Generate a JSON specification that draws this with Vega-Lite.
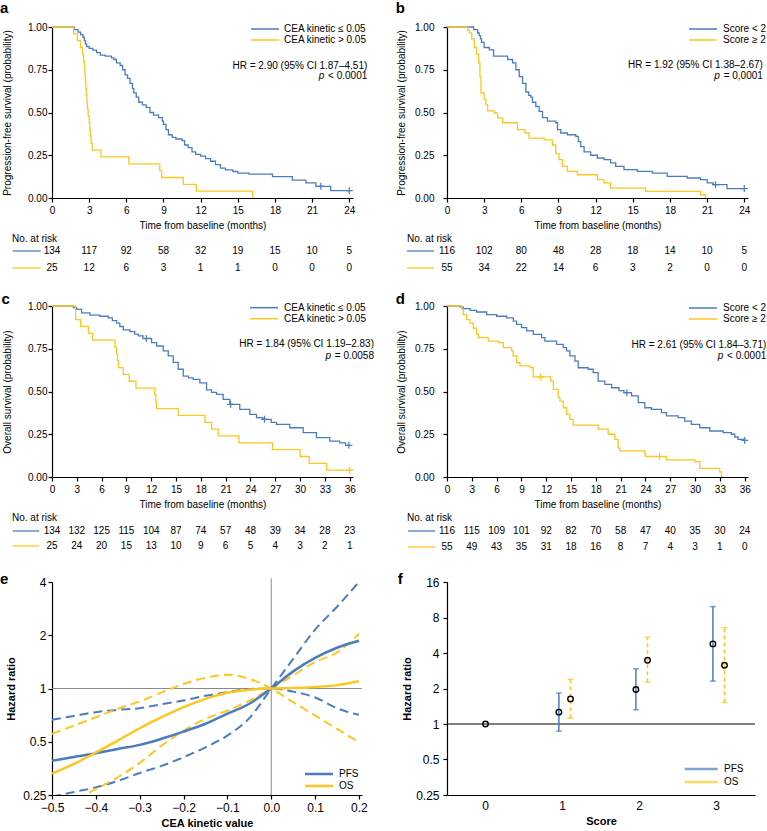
{
  "$schema": "https://vega.github.io/schema/vega-lite/v6.json",
  "padding": {"top": 1, "left": 0, "right": 0, "bottom": 0},
  "background": "white",
  "bounds": "flush",
  "align": "each",
  "columns": 2,
  "spacing": {"row": 46, "column": 85},
  "resolve": {"scale": {"color": "independent"}, "legend": {"color": "independent"}},
  "config": {
    "font": "Liberation Sans",
    "view": {"stroke": null},
    "axis": {"grid": false, "domainColor": "#000", "tickColor": "#000", "labelColor": "#000", "titleColor": "#000", "labelFontSize": 10, "titleFontSize": 10, "titleFontWeight": "normal", "tickSize": 4, "domainWidth": 1.2, "tickWidth": 1.2, "labelFont": "Liberation Sans", "titleFont": "Liberation Sans", "labelOverlap": false},
    "legend": {"labelFont": "Liberation Sans", "labelColor": "#000"},
    "title": {"fontSize": 10, "fontWeight": "normal", "color": "#000", "font": "Liberation Sans"},
    "text": {"font": "Liberation Sans", "color": "#000"}
  },
  "datasets": {
    "kmA": [
      {"group": "CEA kinetic ≤ 0.05", "t": 0, "s": 1}, {"group": "CEA kinetic ≤ 0.05", "t": 1.8, "s": 0.985}, {"group": "CEA kinetic ≤ 0.05", "t": 2.1, "s": 0.97}, {"group": "CEA kinetic ≤ 0.05", "t": 2.3, "s": 0.955}, {"group": "CEA kinetic ≤ 0.05", "t": 2.5, "s": 0.94}, {"group": "CEA kinetic ≤ 0.05", "t": 2.6, "s": 0.92}, {"group": "CEA kinetic ≤ 0.05", "t": 2.7, "s": 0.9}, {"group": "CEA kinetic ≤ 0.05", "t": 2.8, "s": 0.885}, {"group": "CEA kinetic ≤ 0.05", "t": 3.0, "s": 0.875}, {"group": "CEA kinetic ≤ 0.05", "t": 3.3, "s": 0.865}, {"group": "CEA kinetic ≤ 0.05", "t": 3.6, "s": 0.85}, {"group": "CEA kinetic ≤ 0.05", "t": 3.9, "s": 0.835}, {"group": "CEA kinetic ≤ 0.05", "t": 4.3, "s": 0.83}, {"group": "CEA kinetic ≤ 0.05", "t": 4.8, "s": 0.82}, {"group": "CEA kinetic ≤ 0.05", "t": 5.0, "s": 0.81}, {"group": "CEA kinetic ≤ 0.05", "t": 5.2, "s": 0.79}, {"group": "CEA kinetic ≤ 0.05", "t": 5.5, "s": 0.775}, {"group": "CEA kinetic ≤ 0.05", "t": 5.7, "s": 0.75}, {"group": "CEA kinetic ≤ 0.05", "t": 5.9, "s": 0.72}, {"group": "CEA kinetic ≤ 0.05", "t": 6.1, "s": 0.7}, {"group": "CEA kinetic ≤ 0.05", "t": 6.3, "s": 0.67}, {"group": "CEA kinetic ≤ 0.05", "t": 6.5, "s": 0.64}, {"group": "CEA kinetic ≤ 0.05", "t": 6.6, "s": 0.615}, {"group": "CEA kinetic ≤ 0.05", "t": 6.8, "s": 0.59}, {"group": "CEA kinetic ≤ 0.05", "t": 7.0, "s": 0.56}, {"group": "CEA kinetic ≤ 0.05", "t": 7.3, "s": 0.545}, {"group": "CEA kinetic ≤ 0.05", "t": 7.6, "s": 0.53}, {"group": "CEA kinetic ≤ 0.05", "t": 7.9, "s": 0.5}, {"group": "CEA kinetic ≤ 0.05", "t": 8.2, "s": 0.485}, {"group": "CEA kinetic ≤ 0.05", "t": 8.6, "s": 0.47}, {"group": "CEA kinetic ≤ 0.05", "t": 8.9, "s": 0.45}, {"group": "CEA kinetic ≤ 0.05", "t": 9.0, "s": 0.43}, {"group": "CEA kinetic ≤ 0.05", "t": 9.2, "s": 0.4}, {"group": "CEA kinetic ≤ 0.05", "t": 9.4, "s": 0.37}, {"group": "CEA kinetic ≤ 0.05", "t": 9.7, "s": 0.355}, {"group": "CEA kinetic ≤ 0.05", "t": 10.0, "s": 0.345}, {"group": "CEA kinetic ≤ 0.05", "t": 10.5, "s": 0.335}, {"group": "CEA kinetic ≤ 0.05", "t": 10.7, "s": 0.31}, {"group": "CEA kinetic ≤ 0.05", "t": 11.0, "s": 0.295}, {"group": "CEA kinetic ≤ 0.05", "t": 11.3, "s": 0.27}, {"group": "CEA kinetic ≤ 0.05", "t": 11.6, "s": 0.255}, {"group": "CEA kinetic ≤ 0.05", "t": 12.0, "s": 0.245}, {"group": "CEA kinetic ≤ 0.05", "t": 12.4, "s": 0.23}, {"group": "CEA kinetic ≤ 0.05", "t": 12.8, "s": 0.215}, {"group": "CEA kinetic ≤ 0.05", "t": 13.2, "s": 0.195}, {"group": "CEA kinetic ≤ 0.05", "t": 13.6, "s": 0.175}, {"group": "CEA kinetic ≤ 0.05", "t": 14.0, "s": 0.165}, {"group": "CEA kinetic ≤ 0.05", "t": 14.6, "s": 0.155}, {"group": "CEA kinetic ≤ 0.05", "t": 15.0, "s": 0.145}, {"group": "CEA kinetic ≤ 0.05", "t": 15.9, "s": 0.14}, {"group": "CEA kinetic ≤ 0.05", "t": 17.8, "s": 0.125}, {"group": "CEA kinetic ≤ 0.05", "t": 19.4, "s": 0.105}, {"group": "CEA kinetic ≤ 0.05", "t": 20.5, "s": 0.088}, {"group": "CEA kinetic ≤ 0.05", "t": 21.3, "s": 0.068}, {"group": "CEA kinetic ≤ 0.05", "t": 22.5, "s": 0.043}, {"group": "CEA kinetic ≤ 0.05", "t": 24.0, "s": 0.043},
      {"group": "CEA kinetic > 0.05", "t": 0, "s": 1}, {"group": "CEA kinetic > 0.05", "t": 1.75, "s": 0.96}, {"group": "CEA kinetic > 0.05", "t": 2.05, "s": 0.92}, {"group": "CEA kinetic > 0.05", "t": 2.3, "s": 0.88}, {"group": "CEA kinetic > 0.05", "t": 2.45, "s": 0.84}, {"group": "CEA kinetic > 0.05", "t": 2.55, "s": 0.8}, {"group": "CEA kinetic > 0.05", "t": 2.62, "s": 0.76}, {"group": "CEA kinetic > 0.05", "t": 2.66, "s": 0.72}, {"group": "CEA kinetic > 0.05", "t": 2.7, "s": 0.68}, {"group": "CEA kinetic > 0.05", "t": 2.74, "s": 0.64}, {"group": "CEA kinetic > 0.05", "t": 2.78, "s": 0.6}, {"group": "CEA kinetic > 0.05", "t": 2.82, "s": 0.56}, {"group": "CEA kinetic > 0.05", "t": 2.86, "s": 0.52}, {"group": "CEA kinetic > 0.05", "t": 2.92, "s": 0.48}, {"group": "CEA kinetic > 0.05", "t": 3.0, "s": 0.44}, {"group": "CEA kinetic > 0.05", "t": 3.05, "s": 0.4}, {"group": "CEA kinetic > 0.05", "t": 3.1, "s": 0.36}, {"group": "CEA kinetic > 0.05", "t": 3.16, "s": 0.32}, {"group": "CEA kinetic > 0.05", "t": 3.25, "s": 0.28}, {"group": "CEA kinetic > 0.05", "t": 3.95, "s": 0.24}, {"group": "CEA kinetic > 0.05", "t": 6.2, "s": 0.2}, {"group": "CEA kinetic > 0.05", "t": 8.7, "s": 0.16}, {"group": "CEA kinetic > 0.05", "t": 8.85, "s": 0.12}, {"group": "CEA kinetic > 0.05", "t": 10.6, "s": 0.08}, {"group": "CEA kinetic > 0.05", "t": 11.65, "s": 0.04}, {"group": "CEA kinetic > 0.05", "t": 16.2, "s": 0.0}
    ],
    "censA": [
      {"group": "CEA kinetic ≤ 0.05", "t": 21.7, "s": 0.068}, {"group": "CEA kinetic ≤ 0.05", "t": 24.0, "s": 0.043}
    ],
    "kmB": [
      {"group": "Score < 2", "t": 0, "s": 1}, {"group": "Score < 2", "t": 2.15, "s": 0.985}, {"group": "Score < 2", "t": 2.47, "s": 0.965}, {"group": "Score < 2", "t": 2.6, "s": 0.95}, {"group": "Score < 2", "t": 2.7, "s": 0.93}, {"group": "Score < 2", "t": 2.79, "s": 0.91}, {"group": "Score < 2", "t": 3.0, "s": 0.88}, {"group": "Score < 2", "t": 3.41, "s": 0.866}, {"group": "Score < 2", "t": 3.76, "s": 0.83}, {"group": "Score < 2", "t": 4.89, "s": 0.81}, {"group": "Score < 2", "t": 5.29, "s": 0.79}, {"group": "Score < 2", "t": 5.56, "s": 0.75}, {"group": "Score < 2", "t": 5.83, "s": 0.71}, {"group": "Score < 2", "t": 6.1, "s": 0.67}, {"group": "Score < 2", "t": 6.37, "s": 0.62}, {"group": "Score < 2", "t": 6.6, "s": 0.6}, {"group": "Score < 2", "t": 6.77, "s": 0.59}, {"group": "Score < 2", "t": 6.9, "s": 0.56}, {"group": "Score < 2", "t": 7.17, "s": 0.536}, {"group": "Score < 2", "t": 7.44, "s": 0.507}, {"group": "Score < 2", "t": 7.71, "s": 0.47}, {"group": "Score < 2", "t": 8.11, "s": 0.45}, {"group": "Score < 2", "t": 8.78, "s": 0.44}, {"group": "Score < 2", "t": 8.92, "s": 0.4}, {"group": "Score < 2", "t": 9.19, "s": 0.38}, {"group": "Score < 2", "t": 9.72, "s": 0.37}, {"group": "Score < 2", "t": 10.4, "s": 0.36}, {"group": "Score < 2", "t": 10.6, "s": 0.33}, {"group": "Score < 2", "t": 10.8, "s": 0.3}, {"group": "Score < 2", "t": 11.07, "s": 0.27}, {"group": "Score < 2", "t": 11.6, "s": 0.25}, {"group": "Score < 2", "t": 12.14, "s": 0.234}, {"group": "Score < 2", "t": 12.68, "s": 0.224}, {"group": "Score < 2", "t": 13.21, "s": 0.205}, {"group": "Score < 2", "t": 13.62, "s": 0.185}, {"group": "Score < 2", "t": 14.29, "s": 0.166}, {"group": "Score < 2", "t": 15.36, "s": 0.156}, {"group": "Score < 2", "t": 16.57, "s": 0.146}, {"group": "Score < 2", "t": 17.78, "s": 0.127}, {"group": "Score < 2", "t": 19.39, "s": 0.117}, {"group": "Score < 2", "t": 20.47, "s": 0.107}, {"group": "Score < 2", "t": 21.0, "s": 0.088}, {"group": "Score < 2", "t": 21.5, "s": 0.078}, {"group": "Score < 2", "t": 22.6, "s": 0.055}, {"group": "Score < 2", "t": 24.0, "s": 0.055},
      {"group": "Score ≥ 2", "t": 0, "s": 1}, {"group": "Score ≥ 2", "t": 1.67, "s": 0.98}, {"group": "Score ≥ 2", "t": 1.8, "s": 0.965}, {"group": "Score ≥ 2", "t": 1.99, "s": 0.93}, {"group": "Score ≥ 2", "t": 2.2, "s": 0.88}, {"group": "Score ≥ 2", "t": 2.39, "s": 0.84}, {"group": "Score ≥ 2", "t": 2.55, "s": 0.79}, {"group": "Score ≥ 2", "t": 2.66, "s": 0.71}, {"group": "Score ≥ 2", "t": 2.74, "s": 0.614}, {"group": "Score ≥ 2", "t": 3.0, "s": 0.575}, {"group": "Score ≥ 2", "t": 3.14, "s": 0.546}, {"group": "Score ≥ 2", "t": 3.28, "s": 0.51}, {"group": "Score ≥ 2", "t": 3.81, "s": 0.497}, {"group": "Score ≥ 2", "t": 4.08, "s": 0.468}, {"group": "Score ≥ 2", "t": 4.49, "s": 0.44}, {"group": "Score ≥ 2", "t": 5.69, "s": 0.4}, {"group": "Score ≥ 2", "t": 6.3, "s": 0.38}, {"group": "Score ≥ 2", "t": 6.63, "s": 0.35}, {"group": "Score ≥ 2", "t": 7.84, "s": 0.34}, {"group": "Score ≥ 2", "t": 8.51, "s": 0.31}, {"group": "Score ≥ 2", "t": 8.78, "s": 0.26}, {"group": "Score ≥ 2", "t": 9.05, "s": 0.224}, {"group": "Score ≥ 2", "t": 9.32, "s": 0.185}, {"group": "Score ≥ 2", "t": 9.72, "s": 0.156}, {"group": "Score ≥ 2", "t": 10.53, "s": 0.136}, {"group": "Score ≥ 2", "t": 12.14, "s": 0.107}, {"group": "Score ≥ 2", "t": 12.68, "s": 0.088}, {"group": "Score ≥ 2", "t": 13.21, "s": 0.058}, {"group": "Score ≥ 2", "t": 16.03, "s": 0.039}, {"group": "Score ≥ 2", "t": 20.47, "s": 0.019}, {"group": "Score ≥ 2", "t": 20.87, "s": 0.0}
    ],
    "censB": [
      {"group": "Score < 2", "t": 21.68, "s": 0.078}, {"group": "Score < 2", "t": 24.0, "s": 0.055}
    ],
    "kmC": [
      {"group": "CEA kinetic ≤ 0.05", "t": 0, "s": 1}, {"group": "CEA kinetic ≤ 0.05", "t": 2.58, "s": 0.99}, {"group": "CEA kinetic ≤ 0.05", "t": 2.98, "s": 0.98}, {"group": "CEA kinetic ≤ 0.05", "t": 3.58, "s": 0.96}, {"group": "CEA kinetic ≤ 0.05", "t": 4.59, "s": 0.947}, {"group": "CEA kinetic ≤ 0.05", "t": 5.8, "s": 0.94}, {"group": "CEA kinetic ≤ 0.05", "t": 6.8, "s": 0.93}, {"group": "CEA kinetic ≤ 0.05", "t": 7.3, "s": 0.915}, {"group": "CEA kinetic ≤ 0.05", "t": 7.81, "s": 0.9}, {"group": "CEA kinetic ≤ 0.05", "t": 8.2, "s": 0.88}, {"group": "CEA kinetic ≤ 0.05", "t": 8.62, "s": 0.86}, {"group": "CEA kinetic ≤ 0.05", "t": 9.42, "s": 0.85}, {"group": "CEA kinetic ≤ 0.05", "t": 10.0, "s": 0.835}, {"group": "CEA kinetic ≤ 0.05", "t": 10.43, "s": 0.825}, {"group": "CEA kinetic ≤ 0.05", "t": 11.0, "s": 0.81}, {"group": "CEA kinetic ≤ 0.05", "t": 12.04, "s": 0.786}, {"group": "CEA kinetic ≤ 0.05", "t": 12.65, "s": 0.766}, {"group": "CEA kinetic ≤ 0.05", "t": 13.45, "s": 0.737}, {"group": "CEA kinetic ≤ 0.05", "t": 14.06, "s": 0.708}, {"group": "CEA kinetic ≤ 0.05", "t": 14.66, "s": 0.67}, {"group": "CEA kinetic ≤ 0.05", "t": 15.26, "s": 0.63}, {"group": "CEA kinetic ≤ 0.05", "t": 15.87, "s": 0.59}, {"group": "CEA kinetic ≤ 0.05", "t": 16.5, "s": 0.58}, {"group": "CEA kinetic ≤ 0.05", "t": 17.08, "s": 0.571}, {"group": "CEA kinetic ≤ 0.05", "t": 17.88, "s": 0.55}, {"group": "CEA kinetic ≤ 0.05", "t": 18.69, "s": 0.51}, {"group": "CEA kinetic ≤ 0.05", "t": 19.3, "s": 0.495}, {"group": "CEA kinetic ≤ 0.05", "t": 19.9, "s": 0.483}, {"group": "CEA kinetic ≤ 0.05", "t": 20.7, "s": 0.454}, {"group": "CEA kinetic ≤ 0.05", "t": 21.5, "s": 0.425}, {"group": "CEA kinetic ≤ 0.05", "t": 22.71, "s": 0.396}, {"group": "CEA kinetic ≤ 0.05", "t": 23.92, "s": 0.366}, {"group": "CEA kinetic ≤ 0.05", "t": 24.73, "s": 0.347}, {"group": "CEA kinetic ≤ 0.05", "t": 25.5, "s": 0.337}, {"group": "CEA kinetic ≤ 0.05", "t": 26.5, "s": 0.32}, {"group": "CEA kinetic ≤ 0.05", "t": 27.14, "s": 0.308}, {"group": "CEA kinetic ≤ 0.05", "t": 28.75, "s": 0.288}, {"group": "CEA kinetic ≤ 0.05", "t": 30.37, "s": 0.259}, {"group": "CEA kinetic ≤ 0.05", "t": 31.98, "s": 0.23}, {"group": "CEA kinetic ≤ 0.05", "t": 33.59, "s": 0.21}, {"group": "CEA kinetic ≤ 0.05", "t": 34.8, "s": 0.2}, {"group": "CEA kinetic ≤ 0.05", "t": 35.5, "s": 0.185}, {"group": "CEA kinetic ≤ 0.05", "t": 36.0, "s": 0.185},
      {"group": "CEA kinetic > 0.05", "t": 0, "s": 1}, {"group": "CEA kinetic > 0.05", "t": 2.85, "s": 0.92}, {"group": "CEA kinetic > 0.05", "t": 3.45, "s": 0.88}, {"group": "CEA kinetic > 0.05", "t": 4.4, "s": 0.84}, {"group": "CEA kinetic > 0.05", "t": 4.91, "s": 0.8}, {"group": "CEA kinetic > 0.05", "t": 7.61, "s": 0.76}, {"group": "CEA kinetic > 0.05", "t": 7.81, "s": 0.72}, {"group": "CEA kinetic > 0.05", "t": 7.93, "s": 0.68}, {"group": "CEA kinetic > 0.05", "t": 8.05, "s": 0.64}, {"group": "CEA kinetic > 0.05", "t": 8.62, "s": 0.6}, {"group": "CEA kinetic > 0.05", "t": 9.34, "s": 0.56}, {"group": "CEA kinetic > 0.05", "t": 10.15, "s": 0.52}, {"group": "CEA kinetic > 0.05", "t": 12.44, "s": 0.48}, {"group": "CEA kinetic > 0.05", "t": 12.56, "s": 0.44}, {"group": "CEA kinetic > 0.05", "t": 12.65, "s": 0.4}, {"group": "CEA kinetic > 0.05", "t": 15.26, "s": 0.36}, {"group": "CEA kinetic > 0.05", "t": 18.49, "s": 0.32}, {"group": "CEA kinetic > 0.05", "t": 19.3, "s": 0.28}, {"group": "CEA kinetic > 0.05", "t": 20.1, "s": 0.24}, {"group": "CEA kinetic > 0.05", "t": 22.6, "s": 0.2}, {"group": "CEA kinetic > 0.05", "t": 26.66, "s": 0.16}, {"group": "CEA kinetic > 0.05", "t": 30.0, "s": 0.12}, {"group": "CEA kinetic > 0.05", "t": 31.1, "s": 0.08}, {"group": "CEA kinetic > 0.05", "t": 33.2, "s": 0.04}, {"group": "CEA kinetic > 0.05", "t": 36.0, "s": 0.04}
    ],
    "censC": [
      {"group": "CEA kinetic ≤ 0.05", "t": 11.4, "s": 0.81}, {"group": "CEA kinetic ≤ 0.05", "t": 21.6, "s": 0.425}, {"group": "CEA kinetic ≤ 0.05", "t": 25.7, "s": 0.337}, {"group": "CEA kinetic ≤ 0.05", "t": 35.9, "s": 0.185}, {"group": "CEA kinetic > 0.05", "t": 36.0, "s": 0.04}
    ],
    "kmD": [
      {"group": "Score < 2", "t": 0, "s": 1}, {"group": "Score < 2", "t": 1.57, "s": 0.994}, {"group": "Score < 2", "t": 1.97, "s": 0.985}, {"group": "Score < 2", "t": 2.8, "s": 0.975}, {"group": "Score < 2", "t": 3.58, "s": 0.965}, {"group": "Score < 2", "t": 4.79, "s": 0.95}, {"group": "Score < 2", "t": 6.0, "s": 0.94}, {"group": "Score < 2", "t": 7.21, "s": 0.93}, {"group": "Score < 2", "t": 8.01, "s": 0.912}, {"group": "Score < 2", "t": 8.42, "s": 0.893}, {"group": "Score < 2", "t": 9.02, "s": 0.873}, {"group": "Score < 2", "t": 9.63, "s": 0.854}, {"group": "Score < 2", "t": 10.43, "s": 0.834}, {"group": "Score < 2", "t": 11.44, "s": 0.815}, {"group": "Score < 2", "t": 11.84, "s": 0.795}, {"group": "Score < 2", "t": 13.25, "s": 0.776}, {"group": "Score < 2", "t": 14.06, "s": 0.756}, {"group": "Score < 2", "t": 14.46, "s": 0.737}, {"group": "Score < 2", "t": 14.86, "s": 0.708}, {"group": "Score < 2", "t": 15.47, "s": 0.678}, {"group": "Score < 2", "t": 15.87, "s": 0.639}, {"group": "Score < 2", "t": 17.08, "s": 0.63}, {"group": "Score < 2", "t": 17.68, "s": 0.61}, {"group": "Score < 2", "t": 18.28, "s": 0.561}, {"group": "Score < 2", "t": 19.09, "s": 0.542}, {"group": "Score < 2", "t": 19.9, "s": 0.522}, {"group": "Score < 2", "t": 20.8, "s": 0.505}, {"group": "Score < 2", "t": 21.4, "s": 0.493}, {"group": "Score < 2", "t": 22.31, "s": 0.474}, {"group": "Score < 2", "t": 23.12, "s": 0.435}, {"group": "Score < 2", "t": 23.92, "s": 0.405}, {"group": "Score < 2", "t": 24.73, "s": 0.396}, {"group": "Score < 2", "t": 25.94, "s": 0.376}, {"group": "Score < 2", "t": 26.54, "s": 0.357}, {"group": "Score < 2", "t": 27.95, "s": 0.347}, {"group": "Score < 2", "t": 28.75, "s": 0.327}, {"group": "Score < 2", "t": 29.56, "s": 0.308}, {"group": "Score < 2", "t": 30.57, "s": 0.288}, {"group": "Score < 2", "t": 31.78, "s": 0.269}, {"group": "Score < 2", "t": 33.39, "s": 0.259}, {"group": "Score < 2", "t": 34.39, "s": 0.25}, {"group": "Score < 2", "t": 34.8, "s": 0.234}, {"group": "Score < 2", "t": 35.2, "s": 0.22}, {"group": "Score < 2", "t": 36.0, "s": 0.214},
      {"group": "Score ≥ 2", "t": 0, "s": 1}, {"group": "Score ≥ 2", "t": 1.77, "s": 0.982}, {"group": "Score ≥ 2", "t": 1.97, "s": 0.95}, {"group": "Score ≥ 2", "t": 2.38, "s": 0.92}, {"group": "Score ≥ 2", "t": 2.78, "s": 0.9}, {"group": "Score ≥ 2", "t": 3.18, "s": 0.87}, {"group": "Score ≥ 2", "t": 3.58, "s": 0.834}, {"group": "Score ≥ 2", "t": 3.79, "s": 0.815}, {"group": "Score ≥ 2", "t": 4.99, "s": 0.795}, {"group": "Score ≥ 2", "t": 6.2, "s": 0.786}, {"group": "Score ≥ 2", "t": 6.8, "s": 0.756}, {"group": "Score ≥ 2", "t": 7.81, "s": 0.737}, {"group": "Score ≥ 2", "t": 8.01, "s": 0.708}, {"group": "Score ≥ 2", "t": 8.42, "s": 0.668}, {"group": "Score ≥ 2", "t": 8.82, "s": 0.65}, {"group": "Score ≥ 2", "t": 10.03, "s": 0.64}, {"group": "Score ≥ 2", "t": 10.43, "s": 0.585}, {"group": "Score ≥ 2", "t": 12.56, "s": 0.561}, {"group": "Score ≥ 2", "t": 12.85, "s": 0.513}, {"group": "Score ≥ 2", "t": 13.45, "s": 0.464}, {"group": "Score ≥ 2", "t": 13.65, "s": 0.444}, {"group": "Score ≥ 2", "t": 14.06, "s": 0.405}, {"group": "Score ≥ 2", "t": 14.46, "s": 0.366}, {"group": "Score ≥ 2", "t": 14.86, "s": 0.337}, {"group": "Score ≥ 2", "t": 15.26, "s": 0.303}, {"group": "Score ≥ 2", "t": 18.28, "s": 0.28}, {"group": "Score ≥ 2", "t": 19.49, "s": 0.25}, {"group": "Score ≥ 2", "t": 20.3, "s": 0.22}, {"group": "Score ≥ 2", "t": 20.7, "s": 0.17}, {"group": "Score ≥ 2", "t": 20.9, "s": 0.153}, {"group": "Score ≥ 2", "t": 23.92, "s": 0.133}, {"group": "Score ≥ 2", "t": 24.0, "s": 0.12}, {"group": "Score ≥ 2", "t": 26.54, "s": 0.1}, {"group": "Score ≥ 2", "t": 29.96, "s": 0.09}, {"group": "Score ≥ 2", "t": 30.57, "s": 0.05}, {"group": "Score ≥ 2", "t": 32.98, "s": 0.03}, {"group": "Score ≥ 2", "t": 33.19, "s": 0.0}
    ],
    "censD": [
      {"group": "Score < 2", "t": 21.75, "s": 0.493}, {"group": "Score < 2", "t": 36.0, "s": 0.214}, {"group": "Score ≥ 2", "t": 11.3, "s": 0.585}, {"group": "Score ≥ 2", "t": 25.7, "s": 0.12}
    ],
    "riskA": [
      {"group": "CEA kinetic ≤ 0.05", "t": 0, "n": 134}, {"group": "CEA kinetic ≤ 0.05", "t": 3, "n": 117}, {"group": "CEA kinetic ≤ 0.05", "t": 6, "n": 92}, {"group": "CEA kinetic ≤ 0.05", "t": 9, "n": 58}, {"group": "CEA kinetic ≤ 0.05", "t": 12, "n": 32}, {"group": "CEA kinetic ≤ 0.05", "t": 15, "n": 19}, {"group": "CEA kinetic ≤ 0.05", "t": 18, "n": 15}, {"group": "CEA kinetic ≤ 0.05", "t": 21, "n": 10}, {"group": "CEA kinetic ≤ 0.05", "t": 24, "n": 5},
      {"group": "CEA kinetic > 0.05", "t": 0, "n": 25}, {"group": "CEA kinetic > 0.05", "t": 3, "n": 12}, {"group": "CEA kinetic > 0.05", "t": 6, "n": 6}, {"group": "CEA kinetic > 0.05", "t": 9, "n": 3}, {"group": "CEA kinetic > 0.05", "t": 12, "n": 1}, {"group": "CEA kinetic > 0.05", "t": 15, "n": 1}, {"group": "CEA kinetic > 0.05", "t": 18, "n": 0}, {"group": "CEA kinetic > 0.05", "t": 21, "n": 0}, {"group": "CEA kinetic > 0.05", "t": 24, "n": 0}
    ],
    "riskB": [
      {"group": "Score < 2", "t": 0, "n": 116}, {"group": "Score < 2", "t": 3, "n": 102}, {"group": "Score < 2", "t": 6, "n": 80}, {"group": "Score < 2", "t": 9, "n": 48}, {"group": "Score < 2", "t": 12, "n": 28}, {"group": "Score < 2", "t": 15, "n": 18}, {"group": "Score < 2", "t": 18, "n": 14}, {"group": "Score < 2", "t": 21, "n": 10}, {"group": "Score < 2", "t": 24, "n": 5},
      {"group": "Score ≥ 2", "t": 0, "n": 55}, {"group": "Score ≥ 2", "t": 3, "n": 34}, {"group": "Score ≥ 2", "t": 6, "n": 22}, {"group": "Score ≥ 2", "t": 9, "n": 14}, {"group": "Score ≥ 2", "t": 12, "n": 6}, {"group": "Score ≥ 2", "t": 15, "n": 3}, {"group": "Score ≥ 2", "t": 18, "n": 2}, {"group": "Score ≥ 2", "t": 21, "n": 0}, {"group": "Score ≥ 2", "t": 24, "n": 0}
    ],
    "riskC": [
      {"group": "CEA kinetic ≤ 0.05", "t": 0, "n": 134}, {"group": "CEA kinetic ≤ 0.05", "t": 3, "n": 132}, {"group": "CEA kinetic ≤ 0.05", "t": 6, "n": 125}, {"group": "CEA kinetic ≤ 0.05", "t": 9, "n": 115}, {"group": "CEA kinetic ≤ 0.05", "t": 12, "n": 104}, {"group": "CEA kinetic ≤ 0.05", "t": 15, "n": 87}, {"group": "CEA kinetic ≤ 0.05", "t": 18, "n": 74}, {"group": "CEA kinetic ≤ 0.05", "t": 21, "n": 57}, {"group": "CEA kinetic ≤ 0.05", "t": 24, "n": 48}, {"group": "CEA kinetic ≤ 0.05", "t": 27, "n": 39}, {"group": "CEA kinetic ≤ 0.05", "t": 30, "n": 34}, {"group": "CEA kinetic ≤ 0.05", "t": 33, "n": 28}, {"group": "CEA kinetic ≤ 0.05", "t": 36, "n": 23},
      {"group": "CEA kinetic > 0.05", "t": 0, "n": 25}, {"group": "CEA kinetic > 0.05", "t": 3, "n": 24}, {"group": "CEA kinetic > 0.05", "t": 6, "n": 20}, {"group": "CEA kinetic > 0.05", "t": 9, "n": 15}, {"group": "CEA kinetic > 0.05", "t": 12, "n": 13}, {"group": "CEA kinetic > 0.05", "t": 15, "n": 10}, {"group": "CEA kinetic > 0.05", "t": 18, "n": 9}, {"group": "CEA kinetic > 0.05", "t": 21, "n": 6}, {"group": "CEA kinetic > 0.05", "t": 24, "n": 5}, {"group": "CEA kinetic > 0.05", "t": 27, "n": 4}, {"group": "CEA kinetic > 0.05", "t": 30, "n": 3}, {"group": "CEA kinetic > 0.05", "t": 33, "n": 2}, {"group": "CEA kinetic > 0.05", "t": 36, "n": 1}
    ],
    "riskD": [
      {"group": "Score < 2", "t": 0, "n": 116}, {"group": "Score < 2", "t": 3, "n": 115}, {"group": "Score < 2", "t": 6, "n": 109}, {"group": "Score < 2", "t": 9, "n": 101}, {"group": "Score < 2", "t": 12, "n": 92}, {"group": "Score < 2", "t": 15, "n": 82}, {"group": "Score < 2", "t": 18, "n": 70}, {"group": "Score < 2", "t": 21, "n": 58}, {"group": "Score < 2", "t": 24, "n": 47}, {"group": "Score < 2", "t": 27, "n": 40}, {"group": "Score < 2", "t": 30, "n": 35}, {"group": "Score < 2", "t": 33, "n": 30}, {"group": "Score < 2", "t": 36, "n": 24},
      {"group": "Score ≥ 2", "t": 0, "n": 55}, {"group": "Score ≥ 2", "t": 3, "n": 49}, {"group": "Score ≥ 2", "t": 6, "n": 43}, {"group": "Score ≥ 2", "t": 9, "n": 35}, {"group": "Score ≥ 2", "t": 12, "n": 31}, {"group": "Score ≥ 2", "t": 15, "n": 18}, {"group": "Score ≥ 2", "t": 18, "n": 16}, {"group": "Score ≥ 2", "t": 21, "n": 8}, {"group": "Score ≥ 2", "t": 24, "n": 7}, {"group": "Score ≥ 2", "t": 27, "n": 4}, {"group": "Score ≥ 2", "t": 30, "n": 3}, {"group": "Score ≥ 2", "t": 33, "n": 1}, {"group": "Score ≥ 2", "t": 36, "n": 0}
    ],
    "spline": [
      {"m": "PFS", "b": "est", "x": -0.5, "hr": 0.39}, {"m": "PFS", "b": "est", "x": -0.45, "hr": 0.41}, {"m": "PFS", "b": "est", "x": -0.4, "hr": 0.43}, {"m": "PFS", "b": "est", "x": -0.35, "hr": 0.455}, {"m": "PFS", "b": "est", "x": -0.3, "hr": 0.48}, {"m": "PFS", "b": "est", "x": -0.25, "hr": 0.52}, {"m": "PFS", "b": "est", "x": -0.2, "hr": 0.57}, {"m": "PFS", "b": "est", "x": -0.15, "hr": 0.632}, {"m": "PFS", "b": "est", "x": -0.1, "hr": 0.72}, {"m": "PFS", "b": "est", "x": -0.05, "hr": 0.82}, {"m": "PFS", "b": "est", "x": 0, "hr": 1.0}, {"m": "PFS", "b": "est", "x": 0.05, "hr": 1.25}, {"m": "PFS", "b": "est", "x": 0.1, "hr": 1.49}, {"m": "PFS", "b": "est", "x": 0.15, "hr": 1.7}, {"m": "PFS", "b": "est", "x": 0.2, "hr": 1.86},
      {"m": "PFS", "b": "ciA", "x": -0.5, "hr": 0.245}, {"m": "PFS", "b": "ciA", "x": -0.45, "hr": 0.26}, {"m": "PFS", "b": "ciA", "x": -0.4, "hr": 0.276}, {"m": "PFS", "b": "ciA", "x": -0.35, "hr": 0.3}, {"m": "PFS", "b": "ciA", "x": -0.3, "hr": 0.333}, {"m": "PFS", "b": "ciA", "x": -0.25, "hr": 0.365}, {"m": "PFS", "b": "ciA", "x": -0.2, "hr": 0.409}, {"m": "PFS", "b": "ciA", "x": -0.15, "hr": 0.465}, {"m": "PFS", "b": "ciA", "x": -0.1, "hr": 0.542}, {"m": "PFS", "b": "ciA", "x": -0.05, "hr": 0.68}, {"m": "PFS", "b": "ciA", "x": 0, "hr": 1.0}, {"m": "PFS", "b": "ciA", "x": 0.05, "hr": 1.47}, {"m": "PFS", "b": "ciA", "x": 0.1, "hr": 2.15}, {"m": "PFS", "b": "ciA", "x": 0.15, "hr": 2.9}, {"m": "PFS", "b": "ciA", "x": 0.2, "hr": 4.0},
      {"m": "PFS", "b": "ciB", "x": -0.5, "hr": 0.665}, {"m": "PFS", "b": "ciB", "x": -0.45, "hr": 0.7}, {"m": "PFS", "b": "ciB", "x": -0.4, "hr": 0.735}, {"m": "PFS", "b": "ciB", "x": -0.35, "hr": 0.757}, {"m": "PFS", "b": "ciB", "x": -0.3, "hr": 0.774}, {"m": "PFS", "b": "ciB", "x": -0.25, "hr": 0.815}, {"m": "PFS", "b": "ciB", "x": -0.2, "hr": 0.855}, {"m": "PFS", "b": "ciB", "x": -0.15, "hr": 0.91}, {"m": "PFS", "b": "ciB", "x": -0.1, "hr": 0.953}, {"m": "PFS", "b": "ciB", "x": -0.05, "hr": 0.993}, {"m": "PFS", "b": "ciB", "x": 0, "hr": 1.0}, {"m": "PFS", "b": "ciB", "x": 0.05, "hr": 0.96}, {"m": "PFS", "b": "ciB", "x": 0.1, "hr": 0.89}, {"m": "PFS", "b": "ciB", "x": 0.15, "hr": 0.774}, {"m": "PFS", "b": "ciB", "x": 0.175, "hr": 0.735}, {"m": "PFS", "b": "ciB", "x": 0.2, "hr": 0.71},
      {"m": "OS", "b": "est", "x": -0.5, "hr": 0.33}, {"m": "OS", "b": "est", "x": -0.45, "hr": 0.375}, {"m": "OS", "b": "est", "x": -0.4, "hr": 0.435}, {"m": "OS", "b": "est", "x": -0.35, "hr": 0.508}, {"m": "OS", "b": "est", "x": -0.3, "hr": 0.596}, {"m": "OS", "b": "est", "x": -0.25, "hr": 0.688}, {"m": "OS", "b": "est", "x": -0.2, "hr": 0.784}, {"m": "OS", "b": "est", "x": -0.15, "hr": 0.874}, {"m": "OS", "b": "est", "x": -0.1, "hr": 0.945}, {"m": "OS", "b": "est", "x": -0.05, "hr": 0.985}, {"m": "OS", "b": "est", "x": 0, "hr": 1.0}, {"m": "OS", "b": "est", "x": 0.05, "hr": 1.005}, {"m": "OS", "b": "est", "x": 0.1, "hr": 1.02}, {"m": "OS", "b": "est", "x": 0.15, "hr": 1.045}, {"m": "OS", "b": "est", "x": 0.2, "hr": 1.1},
      {"m": "OS", "b": "ciA", "x": -0.5, "hr": 0.2}, {"m": "OS", "b": "ciA", "x": -0.45, "hr": 0.232}, {"m": "OS", "b": "ciA", "x": -0.4, "hr": 0.27}, {"m": "OS", "b": "ciA", "x": -0.35, "hr": 0.315}, {"m": "OS", "b": "ciA", "x": -0.3, "hr": 0.38}, {"m": "OS", "b": "ciA", "x": -0.25, "hr": 0.476}, {"m": "OS", "b": "ciA", "x": -0.2, "hr": 0.578}, {"m": "OS", "b": "ciA", "x": -0.15, "hr": 0.673}, {"m": "OS", "b": "ciA", "x": -0.1, "hr": 0.75}, {"m": "OS", "b": "ciA", "x": -0.05, "hr": 0.855}, {"m": "OS", "b": "ciA", "x": 0, "hr": 1.0}, {"m": "OS", "b": "ciA", "x": 0.05, "hr": 1.185}, {"m": "OS", "b": "ciA", "x": 0.1, "hr": 1.41}, {"m": "OS", "b": "ciA", "x": 0.15, "hr": 1.6}, {"m": "OS", "b": "ciA", "x": 0.2, "hr": 2.04},
      {"m": "OS", "b": "ciB", "x": -0.5, "hr": 0.554}, {"m": "OS", "b": "ciB", "x": -0.45, "hr": 0.617}, {"m": "OS", "b": "ciB", "x": -0.4, "hr": 0.688}, {"m": "OS", "b": "ciB", "x": -0.35, "hr": 0.768}, {"m": "OS", "b": "ciB", "x": -0.3, "hr": 0.845}, {"m": "OS", "b": "ciB", "x": -0.25, "hr": 0.95}, {"m": "OS", "b": "ciB", "x": -0.2, "hr": 1.06}, {"m": "OS", "b": "ciB", "x": -0.15, "hr": 1.15}, {"m": "OS", "b": "ciB", "x": -0.1, "hr": 1.195}, {"m": "OS", "b": "ciB", "x": -0.05, "hr": 1.134}, {"m": "OS", "b": "ciB", "x": 0, "hr": 1.0}, {"m": "OS", "b": "ciB", "x": 0.05, "hr": 0.837}, {"m": "OS", "b": "ciB", "x": 0.1, "hr": 0.703}, {"m": "OS", "b": "ciB", "x": 0.15, "hr": 0.591}, {"m": "OS", "b": "ciB", "x": 0.2, "hr": 0.497}
    ],
    "hrs": [
      {"score": "0", "m": "ref", "hr": 1},
      {"score": "1", "m": "PFS", "hr": 1.26, "lo": 0.87, "hi": 1.83},
      {"score": "1", "m": "OS", "hr": 1.63, "lo": 1.12, "hi": 2.39},
      {"score": "2", "m": "PFS", "hr": 1.96, "lo": 1.32, "hi": 2.94},
      {"score": "2", "m": "OS", "hr": 3.47, "lo": 2.26, "hi": 5.45},
      {"score": "3", "m": "PFS", "hr": 4.78, "lo": 2.31, "hi": 9.9},
      {"score": "3", "m": "OS", "hr": 3.15, "lo": 1.52, "hi": 6.55}
    ]
  },
  "concat": [
    {
      "width": 301, "height": 171,
      "layer": [
        {
          "data": {"name": "kmA"},
          "mark": {"type": "line", "interpolate": "step-after", "strokeWidth": 1.3},
          "encoding": {
            "x": {"field": "t", "type": "quantitative", "scale": {"domain": [0, 24.3], "nice": false}, "axis": {"values": [0, 3, 6, 9, 12, 15, 18, 21, 24], "tickCount": 30, "format": "d", "title": "Time from baseline (months)", "labelFlush": false, "labelOverlap": false, "labelPadding": 3.5, "titlePadding": 5}},
            "y": {"field": "s", "type": "quantitative", "scale": {"domain": [0, 1], "nice": false}, "axis": {"values": [0, 0.25, 0.5, 0.75, 1], "tickCount": 10, "format": ".2f", "title": "Progression-free survival (probability)", "labelOverlap": false, "labelPadding": 1, "titlePadding": 15}},
            "color": {"field": "group", "type": "nominal", "scale": {"domain": ["CEA kinetic ≤ 0.05", "CEA kinetic > 0.05"], "range": ["#4a7dc0", "#ffc61e"]}, "legend": {"orient": "none", "legendX": 207, "legendY": -4, "title": null, "symbolType": "M-2.8,0H2.8", "symbolSize": 100, "symbolStrokeWidth": 1.5, "labelFontSize": 10, "labelOffset": 13, "rowPadding": 0, "padding": 0}}
          }
        },
        {
          "data": {"name": "censA"},
          "mark": {"type": "point", "shape": "M-1,0H1M0,-1V1", "size": 49, "strokeWidth": 1.2, "filled": false, "opacity": 1},
          "encoding": {"x": {"field": "t", "type": "quantitative"}, "y": {"field": "s", "type": "quantitative"}, "color": {"field": "group", "type": "nominal"}}
        },
        {"data": {"values": [{}]}, "mark": {"type": "text", "text": "a", "fontSize": 15, "fontWeight": "bold", "align": "left", "baseline": "alphabetic", "dx": -52, "dy": -14}, "encoding": {"x": {"datum": 0}, "y": {"datum": 1}}},
        {"data": {"values": [{}]}, "mark": {"type": "text", "text": "HR = 2.90 (95% CI 1.87–4.51)", "fontSize": 10, "align": "right", "baseline": "middle", "dx": 18}, "encoding": {"x": {"datum": 24}, "y": {"datum": 0.772}}},
        {"data": {"values": [{}]}, "mark": {"type": "text", "text": "< 0.0001", "fontSize": 10, "align": "right", "baseline": "middle", "dx": 18}, "encoding": {"x": {"datum": 24}, "y": {"datum": 0.711}}},
        {"data": {"values": [{}]}, "mark": {"type": "text", "text": "p", "fontStyle": "italic", "fontSize": 10, "align": "right", "baseline": "middle", "dx": -25}, "encoding": {"x": {"datum": 24}, "y": {"datum": 0.711}}}
      ]
    },
    {
      "width": 301, "height": 171,
      "layer": [
        {
          "data": {"name": "kmB"},
          "mark": {"type": "line", "interpolate": "step-after", "strokeWidth": 1.3},
          "encoding": {
            "x": {"field": "t", "type": "quantitative", "scale": {"domain": [0, 24.3], "nice": false}, "axis": {"values": [0, 3, 6, 9, 12, 15, 18, 21, 24], "tickCount": 30, "format": "d", "title": "Time from baseline (months)", "labelFlush": false, "labelOverlap": false, "labelPadding": 3.5, "titlePadding": 5}},
            "y": {"field": "s", "type": "quantitative", "scale": {"domain": [0, 1], "nice": false}, "axis": {"values": [0, 0.25, 0.5, 0.75, 1], "tickCount": 10, "format": ".2f", "title": "Progression-free survival (probability)", "labelOverlap": false, "labelPadding": 9, "titlePadding": 8}},
            "color": {"field": "group", "type": "nominal", "scale": {"domain": ["Score < 2", "Score ≥ 2"], "range": ["#4a7dc0", "#ffc61e"]}, "legend": {"orient": "none", "legendX": 250, "legendY": -4, "title": null, "symbolType": "M-2.8,0H2.8", "symbolSize": 100, "symbolStrokeWidth": 1.5, "labelFontSize": 10, "labelOffset": 14, "rowPadding": 0, "padding": 0}}
          }
        },
        {
          "data": {"name": "censB"},
          "mark": {"type": "point", "shape": "M-1,0H1M0,-1V1", "size": 49, "strokeWidth": 1.2, "filled": false, "opacity": 1},
          "encoding": {"x": {"field": "t", "type": "quantitative"}, "y": {"field": "s", "type": "quantitative"}, "color": {"field": "group", "type": "nominal"}}
        },
        {"data": {"values": [{}]}, "mark": {"type": "text", "text": "b", "fontSize": 15, "fontWeight": "bold", "align": "left", "baseline": "alphabetic", "dx": -51.3, "dy": -14}, "encoding": {"x": {"datum": 0}, "y": {"datum": 1}}},
        {"data": {"values": [{}]}, "mark": {"type": "text", "text": "HR = 1.92 (95% CI 1.38–2.67)", "fontSize": 10, "align": "right", "baseline": "middle", "dx": 18.6}, "encoding": {"x": {"datum": 24}, "y": {"datum": 0.778}}},
        {"data": {"values": [{}]}, "mark": {"type": "text", "text": "= 0,0001", "fontSize": 10, "align": "right", "baseline": "middle", "dx": 18.6}, "encoding": {"x": {"datum": 24}, "y": {"datum": 0.711}}},
        {"data": {"values": [{}]}, "mark": {"type": "text", "text": "p", "fontStyle": "italic", "fontSize": 10, "align": "right", "baseline": "middle", "dx": -24.4}, "encoding": {"x": {"datum": 24}, "y": {"datum": 0.711}}}
      ]
    },
    {
      "width": 301, "height": 16,
      "title": {"text": "No. at risk", "anchor": "start", "frame": "group", "dx": -40, "offset": 0},
      "layer": [
        {"data": {"name": "riskA"}, "mark": {"type": "text", "fontSize": 10}, "encoding": {"x": {"field": "t", "type": "quantitative", "scale": {"domain": [0, 24.3], "nice": false}, "axis": null}, "y": {"field": "group", "type": "nominal", "scale": {"type": "point", "domain": ["CEA kinetic ≤ 0.05", "CEA kinetic > 0.05"], "range": [7, 24], "padding": 0}, "axis": null}, "text": {"field": "n", "type": "quantitative"}}},
        {"data": {"name": "riskA"}, "transform": [{"filter": "datum.t == 0"}], "mark": {"type": "rule", "strokeWidth": 1.3}, "encoding": {"x": {"datum": -3.17}, "x2": {"datum": -0.91}, "y": {"field": "group", "type": "nominal"}, "color": {"field": "group", "type": "nominal", "scale": {"domain": ["CEA kinetic ≤ 0.05", "CEA kinetic > 0.05"], "range": ["#4a7dc0", "#ffc61e"]}, "legend": null}}}
      ]
    },
    {
      "width": 301, "height": 16,
      "title": {"text": "No. at risk", "anchor": "start", "frame": "group", "dx": -40, "offset": 0},
      "layer": [
        {"data": {"name": "riskB"}, "mark": {"type": "text", "fontSize": 10}, "encoding": {"x": {"field": "t", "type": "quantitative", "scale": {"domain": [0, 24.3], "nice": false}, "axis": null}, "y": {"field": "group", "type": "nominal", "scale": {"type": "point", "domain": ["Score < 2", "Score ≥ 2"], "range": [7, 24], "padding": 0}, "axis": null}, "text": {"field": "n", "type": "quantitative"}}},
        {"data": {"name": "riskB"}, "transform": [{"filter": "datum.t == 0"}], "mark": {"type": "rule", "strokeWidth": 1.3}, "encoding": {"x": {"datum": -3.23}, "x2": {"datum": -1.05}, "y": {"field": "group", "type": "nominal"}, "color": {"field": "group", "type": "nominal", "scale": {"domain": ["Score < 2", "Score ≥ 2"], "range": ["#4a7dc0", "#ffc61e"]}, "legend": null}}}
      ]
    },
    {
      "width": 301, "height": 171,
      "layer": [
        {
          "data": {"name": "kmC"},
          "mark": {"type": "line", "interpolate": "step-after", "strokeWidth": 1.3},
          "encoding": {
            "x": {"field": "t", "type": "quantitative", "scale": {"domain": [0, 36.4], "nice": false}, "axis": {"values": [0, 3, 6, 9, 12, 15, 18, 21, 24, 27, 30, 33, 36], "tickCount": 30, "format": "d", "title": "Time from baseline (months)", "labelFlush": false, "labelOverlap": false, "labelPadding": 3.5, "titlePadding": 5}},
            "y": {"field": "s", "type": "quantitative", "scale": {"domain": [0, 1], "nice": false}, "axis": {"values": [0, 0.25, 0.5, 0.75, 1], "tickCount": 10, "format": ".2f", "title": "Overall survival (probability)", "labelOverlap": false, "labelPadding": 1, "titlePadding": 15}},
            "color": {"field": "group", "type": "nominal", "scale": {"domain": ["CEA kinetic ≤ 0.05", "CEA kinetic > 0.05"], "range": ["#4a7dc0", "#ffc61e"]}, "legend": {"orient": "none", "legendX": 206, "legendY": -4.3, "title": null, "symbolType": "M-2.8,0H2.8", "symbolSize": 100, "symbolStrokeWidth": 1.5, "labelFontSize": 10, "labelOffset": 14, "rowPadding": 0, "padding": 0}}
          }
        },
        {
          "data": {"name": "censC"},
          "mark": {"type": "point", "shape": "M-1,0H1M0,-1V1", "size": 49, "strokeWidth": 1.2, "filled": false, "opacity": 1},
          "encoding": {"x": {"field": "t", "type": "quantitative"}, "y": {"field": "s", "type": "quantitative"}, "color": {"field": "group", "type": "nominal"}}
        },
        {"data": {"values": [{}]}, "mark": {"type": "text", "text": "c", "fontSize": 15, "fontWeight": "bold", "align": "left", "baseline": "alphabetic", "dx": -50.5, "dy": -2}, "encoding": {"x": {"datum": 0}, "y": {"datum": 1}}},
        {"data": {"values": [{}]}, "mark": {"type": "text", "text": "HR = 1.84 (95% CI 1.19–2.83)", "fontSize": 10, "align": "right", "baseline": "middle", "dx": 24.3}, "encoding": {"x": {"datum": 36}, "y": {"datum": 0.778}}},
        {"data": {"values": [{}]}, "mark": {"type": "text", "text": "= 0.0058", "fontSize": 10, "align": "right", "baseline": "middle", "dx": 24.3}, "encoding": {"x": {"datum": 36}, "y": {"datum": 0.709}}},
        {"data": {"values": [{}]}, "mark": {"type": "text", "text": "p", "fontStyle": "italic", "fontSize": 10, "align": "right", "baseline": "middle", "dx": -18.7}, "encoding": {"x": {"datum": 36}, "y": {"datum": 0.709}}}
      ]
    },
    {
      "width": 301, "height": 171,
      "layer": [
        {
          "data": {"name": "kmD"},
          "mark": {"type": "line", "interpolate": "step-after", "strokeWidth": 1.3},
          "encoding": {
            "x": {"field": "t", "type": "quantitative", "scale": {"domain": [0, 36.4], "nice": false}, "axis": {"values": [0, 3, 6, 9, 12, 15, 18, 21, 24, 27, 30, 33, 36], "tickCount": 30, "format": "d", "title": "Time from baseline (months)", "labelFlush": false, "labelOverlap": false, "labelPadding": 3.5, "titlePadding": 5}},
            "y": {"field": "s", "type": "quantitative", "scale": {"domain": [0, 1], "nice": false}, "axis": {"values": [0, 0.25, 0.5, 0.75, 1], "tickCount": 10, "format": ".2f", "title": "Overall survival (probability)", "labelOverlap": false, "labelPadding": 9, "titlePadding": 8}},
            "color": {"field": "group", "type": "nominal", "scale": {"domain": ["Score < 2", "Score ≥ 2"], "range": ["#4a7dc0", "#ffc61e"]}, "legend": {"orient": "none", "legendX": 250, "legendY": -4, "title": null, "symbolType": "M-2.8,0H2.8", "symbolSize": 100, "symbolStrokeWidth": 1.5, "labelFontSize": 10, "labelOffset": 14, "rowPadding": 0, "padding": 0}}
          }
        },
        {
          "data": {"name": "censD"},
          "mark": {"type": "point", "shape": "M-1,0H1M0,-1V1", "size": 49, "strokeWidth": 1.2, "filled": false, "opacity": 1},
          "encoding": {"x": {"field": "t", "type": "quantitative"}, "y": {"field": "s", "type": "quantitative"}, "color": {"field": "group", "type": "nominal"}}
        },
        {"data": {"values": [{}]}, "mark": {"type": "text", "text": "d", "fontSize": 15, "fontWeight": "bold", "align": "left", "baseline": "alphabetic", "dx": -51.3, "dy": -2}, "encoding": {"x": {"datum": 0}, "y": {"datum": 1}}},
        {"data": {"values": [{}]}, "mark": {"type": "text", "text": "HR = 2.61 (95% CI 1.84–3.71)", "fontSize": 10, "align": "right", "baseline": "middle", "dx": 21.6}, "encoding": {"x": {"datum": 36}, "y": {"datum": 0.774}}},
        {"data": {"values": [{}]}, "mark": {"type": "text", "text": "< 0.0001", "fontSize": 10, "align": "right", "baseline": "middle", "dx": 21.6}, "encoding": {"x": {"datum": 36}, "y": {"datum": 0.708}}},
        {"data": {"values": [{}]}, "mark": {"type": "text", "text": "p", "fontStyle": "italic", "fontSize": 10, "align": "right", "baseline": "middle", "dx": -21.4}, "encoding": {"x": {"datum": 36}, "y": {"datum": 0.708}}}
      ]
    },
    {
      "width": 301, "height": 13,
      "title": {"text": "No. at risk", "anchor": "start", "frame": "group", "dx": -40, "offset": 0},
      "layer": [
        {"data": {"name": "riskC"}, "mark": {"type": "text", "fontSize": 10}, "encoding": {"x": {"field": "t", "type": "quantitative", "scale": {"domain": [0, 36.4], "nice": false}, "axis": null}, "y": {"field": "group", "type": "nominal", "scale": {"type": "point", "domain": ["CEA kinetic ≤ 0.05", "CEA kinetic > 0.05"], "range": [8, 23], "padding": 0}, "axis": null}, "text": {"field": "n", "type": "quantitative"}}},
        {"data": {"name": "riskC"}, "transform": [{"filter": "datum.t == 0"}], "mark": {"type": "rule", "strokeWidth": 1.3}, "encoding": {"x": {"datum": -4.75}, "x2": {"datum": -1.54}, "y": {"field": "group", "type": "nominal"}, "color": {"field": "group", "type": "nominal", "scale": {"domain": ["CEA kinetic ≤ 0.05", "CEA kinetic > 0.05"], "range": ["#4a7dc0", "#ffc61e"]}, "legend": null}}}
      ]
    },
    {
      "width": 301, "height": 13,
      "title": {"text": "No. at risk", "anchor": "start", "frame": "group", "dx": -40, "offset": 0},
      "layer": [
        {"data": {"name": "riskD"}, "mark": {"type": "text", "fontSize": 10}, "encoding": {"x": {"field": "t", "type": "quantitative", "scale": {"domain": [0, 36.4], "nice": false}, "axis": null}, "y": {"field": "group", "type": "nominal", "scale": {"type": "point", "domain": ["Score < 2", "Score ≥ 2"], "range": [8, 24], "padding": 0}, "axis": null}, "text": {"field": "n", "type": "quantitative"}}},
        {"data": {"name": "riskD"}, "transform": [{"filter": "datum.t == 0"}], "mark": {"type": "rule", "strokeWidth": 1.3}, "encoding": {"x": {"datum": -4.7}, "x2": {"datum": -1.45}, "y": {"field": "group", "type": "nominal"}, "color": {"field": "group", "type": "nominal", "scale": {"domain": ["Score < 2", "Score ≥ 2"], "range": ["#4a7dc0", "#ffc61e"]}, "legend": null}}}
      ]
    },
    {
      "width": 310, "height": 213,
      "layer": [
        {"data": {"values": [{}]}, "mark": {"type": "rule", "color": "#8a8a8a", "strokeWidth": 1}, "encoding": {"y": {"datum": 1}}},
        {"data": {"values": [{}]}, "mark": {"type": "rule", "color": "#8a8a8a", "strokeWidth": 1}, "encoding": {"x": {"datum": 0}, "y": {"datum": 0.25}, "y2": {"datum": 4.2}}},
        {
          "data": {"name": "spline"},
          "transform": [{"filter": "datum.b != 'est'"}],
          "mark": {"type": "line", "interpolate": "monotone", "strokeWidth": 2, "strokeDash": [9, 5], "clip": true},
          "encoding": {
            "x": {"field": "x", "type": "quantitative", "scale": {"domain": [-0.5, 0.207], "nice": false, "zero": false}, "axis": {"values": [-0.5, -0.4, -0.3, -0.2, -0.1, 0, 0.1, 0.2], "tickCount": 20, "format": ".1f", "title": "CEA kinetic value", "labelFontSize": 12, "titleFontSize": 11, "titleFontWeight": "bold", "labelFlush": false, "labelOverlap": false, "labelPadding": 3, "titlePadding": 4}},
            "y": {"field": "hr", "type": "quantitative", "scale": {"type": "log", "base": 2, "domain": [0.25, 4], "nice": false}, "axis": {"values": [0.25, 0.5, 1, 2, 4], "tickCount": 10, "format": "~g", "title": "Hazard ratio", "labelFontSize": 12, "titleFontSize": 11, "titleFontWeight": "bold", "labelOverlap": false, "labelPadding": 2, "titlePadding": 6}},
            "color": {"field": "m", "type": "nominal", "scale": {"domain": ["PFS", "OS"], "range": ["#4a7dc0", "#ffc61e"]}},
            "detail": {"field": "b", "type": "nominal"}
          }
        },
        {
          "data": {"name": "spline"},
          "transform": [{"filter": "datum.b == 'est'"}],
          "mark": {"type": "line", "interpolate": "monotone", "strokeWidth": 2.5, "clip": true},
          "encoding": {
            "x": {"field": "x", "type": "quantitative"},
            "y": {"field": "hr", "type": "quantitative"},
            "color": {"field": "m", "type": "nominal", "legend": {"orient": "none", "legendX": 260.5, "legendY": 185.5, "title": null, "symbolType": "M-2.8,0H2.8", "symbolSize": 100, "symbolStrokeWidth": 2.5, "labelFontSize": 10, "labelOffset": 13.5, "rowPadding": 0, "padding": 0}},
            "detail": {"field": "b", "type": "nominal"}
          }
        },
        {"data": {"values": [{}]}, "mark": {"type": "text", "text": "e", "fontSize": 15, "fontWeight": "bold", "align": "left", "baseline": "alphabetic", "dx": -52, "dy": 2}, "encoding": {"x": {"datum": -0.5}, "y": {"datum": 4}}}
      ]
    },
    {
      "width": 308, "height": 213,
      "layer": [
        {"data": {"values": [{}]}, "mark": {"type": "rule", "color": "#000", "strokeWidth": 1.2}, "encoding": {"y": {"datum": 1}}},
        {
          "data": {"name": "hrs"}, "transform": [{"filter": "datum.m == 'PFS'"}],
          "mark": {"type": "rule", "strokeWidth": 1.5, "xOffset": -3.6},
          "encoding": {
            "x": {"field": "score", "type": "ordinal", "scale": {"type": "band", "domain": ["0", "1", "2", "3"], "paddingInner": 0, "paddingOuter": 0}, "axis": {"title": "Score", "labelAngle": 0, "labelFontSize": 12, "titleFontSize": 11, "titleFontWeight": "bold", "ticks": false, "labelPadding": 5, "titlePadding": 4}},
            "y": {"field": "lo", "type": "quantitative", "scale": {"type": "log", "base": 2, "domain": [0.25, 16], "nice": false}, "axis": {"values": [0.25, 0.5, 1, 2, 4, 8, 16], "tickCount": 20, "format": "~g", "title": "Hazard ratio", "labelFontSize": 12, "titleFontSize": 11, "titleFontWeight": "bold", "labelOverlap": false, "labelPadding": 4, "titlePadding": 3}},
            "y2": {"field": "hi"},
            "color": {"field": "m", "type": "nominal", "scale": {"domain": ["PFS", "OS"], "range": ["#4a7dc0", "#ffc61e"]}, "legend": {"orient": "none", "legendX": 247.7, "legendY": 180.5, "title": null, "symbolType": "M-3.3,0H3.3", "symbolSize": 100, "symbolStrokeWidth": 2.5, "labelFontSize": 10, "labelOffset": 16.3, "rowPadding": 1, "padding": 0}}
          }
        },
        {
          "data": {"name": "hrs"}, "transform": [{"filter": "datum.m == 'OS'"}],
          "mark": {"type": "rule", "strokeWidth": 1.5, "strokeDash": [4, 3], "xOffset": 8},
          "encoding": {"x": {"field": "score", "type": "ordinal"}, "y": {"field": "lo", "type": "quantitative"}, "y2": {"field": "hi"}, "color": {"field": "m", "type": "nominal"}}
        },
        {
          "data": {"name": "hrs"}, "transform": [{"filter": "datum.m == 'PFS'"}],
          "mark": {"type": "tick", "orient": "horizontal", "size": 6, "thickness": 1.5, "xOffset": -3.6},
          "encoding": {"x": {"field": "score", "type": "ordinal"}, "y": {"field": "lo", "type": "quantitative"}, "color": {"field": "m", "type": "nominal"}}
        },
        {
          "data": {"name": "hrs"}, "transform": [{"filter": "datum.m == 'PFS'"}],
          "mark": {"type": "tick", "orient": "horizontal", "size": 6, "thickness": 1.5, "xOffset": -3.6},
          "encoding": {"x": {"field": "score", "type": "ordinal"}, "y": {"field": "hi", "type": "quantitative"}, "color": {"field": "m", "type": "nominal"}}
        },
        {
          "data": {"name": "hrs"}, "transform": [{"filter": "datum.m == 'OS'"}],
          "mark": {"type": "tick", "orient": "horizontal", "size": 6, "thickness": 1.5, "xOffset": 8},
          "encoding": {"x": {"field": "score", "type": "ordinal"}, "y": {"field": "lo", "type": "quantitative"}, "color": {"field": "m", "type": "nominal"}}
        },
        {
          "data": {"name": "hrs"}, "transform": [{"filter": "datum.m == 'OS'"}],
          "mark": {"type": "tick", "orient": "horizontal", "size": 6, "thickness": 1.5, "xOffset": 8},
          "encoding": {"x": {"field": "score", "type": "ordinal"}, "y": {"field": "hi", "type": "quantitative"}, "color": {"field": "m", "type": "nominal"}}
        },
        {
          "data": {"name": "hrs"}, "transform": [{"filter": "datum.m == 'PFS'"}],
          "mark": {"type": "point", "shape": "circle", "size": 30, "filled": false, "stroke": "#000", "strokeWidth": 1.4, "opacity": 1, "xOffset": -3.6},
          "encoding": {"x": {"field": "score", "type": "ordinal"}, "y": {"field": "hr", "type": "quantitative"}}
        },
        {
          "data": {"name": "hrs"}, "transform": [{"filter": "datum.m == 'OS'"}],
          "mark": {"type": "point", "shape": "circle", "size": 30, "filled": false, "stroke": "#000", "strokeWidth": 1.4, "opacity": 1, "xOffset": 8},
          "encoding": {"x": {"field": "score", "type": "ordinal"}, "y": {"field": "hr", "type": "quantitative"}}
        },
        {
          "data": {"name": "hrs"}, "transform": [{"filter": "datum.m == 'ref'"}],
          "mark": {"type": "point", "shape": "circle", "size": 30, "filled": false, "stroke": "#000", "strokeWidth": 1.4, "opacity": 1},
          "encoding": {"x": {"field": "score", "type": "ordinal"}, "y": {"field": "hr", "type": "quantitative"}}
        },
        {"data": {"values": [{}]}, "mark": {"type": "text", "text": "f", "fontSize": 15, "fontWeight": "bold", "align": "left", "baseline": "alphabetic", "dx": -87.8, "dy": 2}, "encoding": {"x": {"datum": "0"}, "y": {"datum": 16}}}
      ]
    }
  ]
}
